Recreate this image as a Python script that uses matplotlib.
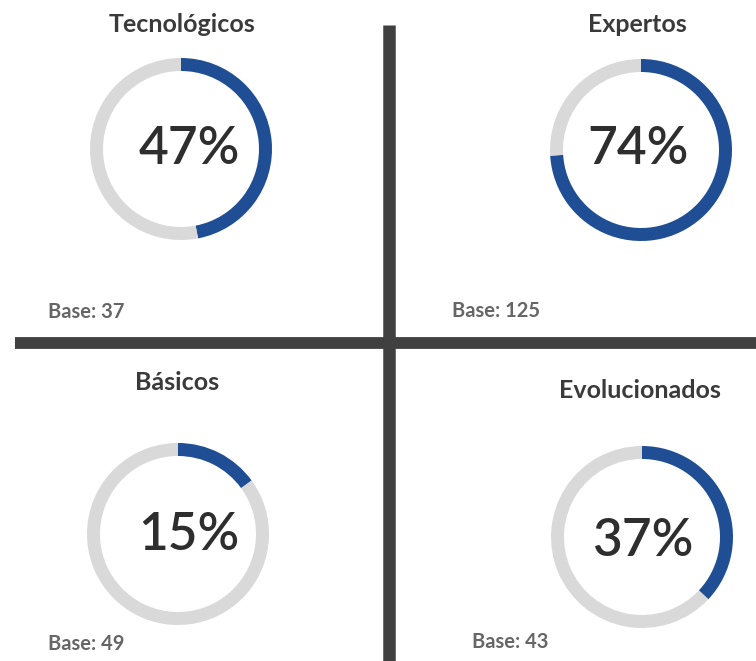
import matplotlib.pyplot as plt

# segment data
segments = ['Tecnológicos', 'Expertos', 'Básicos', 'Evolucionados']
shares = [47, 74, 15, 37]
bases = [37, 125, 49, 43]

BLUE = '#1f4e94'
GREY = '#d9d9d9'
LINE = '#404040'
W, H = 756, 661

# layout in pixels (x, y from top)
centers = [(181, 149), (641, 150), (178, 534), (642, 537)]
text_pos = [(189, 150), (638, 150), (189, 536), (643, 541)]
title_pos = [(182, 25), (637, 25), (177, 383), (640, 390)]
base_pos = [(48, 312), (452, 311), (48, 644), (472, 642)]
R_OUT, RING = 91, 13

plt.rcParams['font.family'] = ['Lato', 'DejaVu Sans']

fig = plt.figure(figsize=(W / 100, H / 100), dpi=100)
ax = fig.add_axes([0, 0, 1, 1])

for i, name in enumerate(segments):
    cx, cy = centers[i]
    ax.pie([shares[i], 100 - shares[i]], radius=R_OUT, center=(cx, H - cy),
           startangle=90, counterclock=False, colors=[BLUE, GREY],
           wedgeprops={'width': RING, 'linewidth': 0})
    tx, ty = text_pos[i]
    ax.text(tx, H - ty, f'{shares[i]}%', ha='center', va='center',
            fontsize=37, fontweight='semibold', color='#2e2e2e')
    tx, ty = title_pos[i]
    ax.text(tx, H - ty, name, ha='center', va='center',
            fontsize=18, fontweight='bold', color='#3a3a3a')
    bx, by = base_pos[i]
    ax.text(bx, H - by, f'Base: {bases[i]}', ha='left', va='center',
            fontsize=14.5, fontweight='bold', color='#666666')

# quadrant divider lines
ax.plot([389, 389], [H - 25, 0], color=LINE, lw=9, solid_capstyle='butt')
ax.plot([15, W], [H - 343, H - 343], color=LINE, lw=8.5, solid_capstyle='butt')

ax.set_xlim(0, W)
ax.set_ylim(0, H)
ax.set_aspect('equal')
ax.axis('off')

fig.savefig('out.png', dpi=100, facecolor='white')
